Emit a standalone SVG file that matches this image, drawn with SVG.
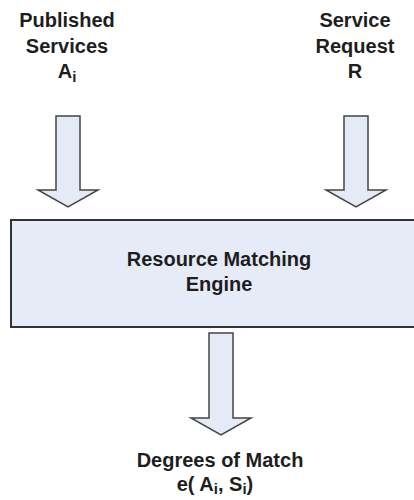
<svg xmlns="http://www.w3.org/2000/svg" width="414" height="500" viewBox="0 0 414 500">
<style>
.t{font-family:"Liberation Sans",Arial,sans-serif;font-weight:bold;font-size:20px;fill:#1e1e1e;text-anchor:middle}
.sub{font-size:15px}
.arrow{fill:#e4ebf6;stroke:#444;stroke-width:1.5;stroke-linejoin:miter}
.box{fill:#e6ecf7;stroke:#333;stroke-width:2}
</style>
<rect width="414" height="500" fill="#fff"/>
<g id="published">
<text class="t" x="67" y="27">Published</text>
<text class="t" x="67" y="53">Services</text>
<text class="t" x="67" y="78">A<tspan class="sub" dy="4">i</tspan></text>
</g>
<g id="request">
<text class="t" x="355" y="27">Service</text>
<text class="t" x="355" y="53">Request</text>
<text class="t" x="355" y="78">R</text>
</g>
<g id="engine">
<rect class="box" x="11" y="220" width="420" height="107"/>
<text class="t" x="219" y="266">Resource Matching</text>
<text class="t" x="219" y="291">Engine</text>
</g>
<g id="degrees">
<text class="t" x="220" y="467">Degrees of Match</text>
<text class="t" x="215" y="491">e( A<tspan class="sub" dy="3">i</tspan><tspan dy="-3">, S</tspan><tspan class="sub" dy="3">i</tspan><tspan dy="-3">)</tspan></text>
</g>
<g id="connectors">
<polygon class="arrow" points="56,116 80,116 80,190 98,190 68,207 38,190 56,190"/>
<polygon class="arrow" points="344,116 368,116 368,190 386,190 356,207 326,190 344,190"/>
<polygon class="arrow" points="209,333 233,333 233,418 251,418 221,435 191,418 209,418"/>
</g>
</svg>
